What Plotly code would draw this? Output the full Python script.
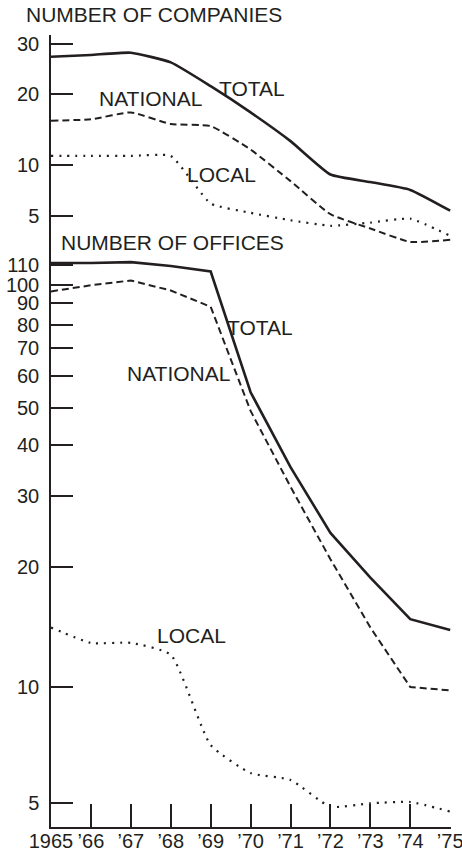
import numpy as np
import plotly.graph_objects as go

# ---- data -------------------------------------------------------------
years = list(range(1965, 1976))
year_labels = ["1965", "’66", "’67", "’68", "’69", "’70", "’71", "’72", "’73", "’74", "’75"]

companies_total = [27.0, 27.4, 27.9, 25.8, 21.3, 16.7, 12.6, 8.75, 7.9, 7.1, 5.35]
companies_national = [15.4, 15.6, 16.7, 14.9, 14.6, 11.6, 8.0, 5.1, 4.2, 3.5, 3.6]
companies_local = [10.9, 10.9, 10.9, 10.9, 5.9, 5.2, 4.7, 4.36, 4.55, 4.8, 3.8]

offices_total = [111, 111, 111.5, 109.5, 106.7, 54.7, 35.3, 24.3, 18.8, 14.8, 13.9]
offices_national = [96.5, 100, 102.3, 97, 88.3, 49.2, 31.6, 20.9, 14.1, 10.0, 9.8]
offices_local = [14.1, 12.9, 12.9, 12.05, 7.07, 5.98, 5.74, 4.89, 4.99, 5.03, 4.75]

company_ticks = [5, 10, 20, 30]
office_ticks = [5, 10, 20, 30, 40, 50, 60, 70, 80, 90, 100, 110]

# ---- printed value scales (tick heights above each panel's floor) -------
company_tick_heights = [36.3, 87.3, 158.0, 208.3]
office_tick_heights = [24.0, 140.0, 260.0, 331.0, 382.0, 418.7, 451.3, 478.7, 502.0, 523.7, 541.7, 562.0]
company_span = 217.0
office_span = 575.0


def make_scale(ticks, heights):
    lt = np.log10(np.asarray(ticks, dtype=float))
    h = np.asarray(heights, dtype=float)

    def f(values):
        lv = np.log10(np.asarray(values, dtype=float))
        out = np.interp(lv, lt, h)
        lo = lv < lt[0]
        hi = lv > lt[-1]
        s0 = (h[1] - h[0]) / (lt[1] - lt[0])
        s1 = (h[-1] - h[-2]) / (lt[-1] - lt[-2])
        out[lo] = h[0] + (lv[lo] - lt[0]) * s0
        out[hi] = h[-1] + (lv[hi] - lt[-1]) * s1
        return out

    return f


comp_scale = make_scale(company_ticks, company_tick_heights)
off_scale = make_scale(office_ticks, office_tick_heights)

INK = "#231f20"
FONT = "Liberation Sans, Arial, Helvetica, sans-serif"

W, H = 462, 851
ML, MR, MT, MB = 51, 11, 35, 24
plot_h = H - MT - MB
split = (H - MB - 252) / plot_h  # boundary between the two panels

SOLID = dict(color=INK, width=2.6)
DASHED = dict(color=INK, width=2.0, dash="7px,4px")
DOTTED = dict(color=INK, width=2.2, dash="2px,6px")

fig = go.Figure()

# companies panel (top)
for vals, line in [
    (companies_total, SOLID),
    (companies_national, DASHED),
    (companies_local, DOTTED),
]:
    fig.add_trace(go.Scatter(
        x=years, y=comp_scale(vals), mode="lines",
        line=dict(**line, shape="spline", smoothing=0.45),
        xaxis="x2", yaxis="y2", hoverinfo="skip", showlegend=False,
    ))

# offices panel (bottom)
for vals, line, shape in [
    (offices_total, SOLID, "linear"),
    (offices_national, DASHED, "linear"),
    (offices_local, DOTTED, "spline"),
]:
    kw = dict(shape=shape)
    if shape == "spline":
        kw["smoothing"] = 0.5
    fig.add_trace(go.Scatter(
        x=years, y=off_scale(vals), mode="lines",
        line=dict(**line, **kw),
        xaxis="x", yaxis="y", hoverinfo="skip", showlegend=False,
    ))


def px_x(x):
    return (x - ML) / (W - ML - MR)


def px_y(y):
    return (H - MB - y) / plot_h


def label(text, x, y):
    fig.add_annotation(
        text=text, x=px_x(x), y=px_y(y), xref="paper", yref="paper",
        xanchor="left", yanchor="middle", showarrow=False,
        font=dict(family=FONT, size=21, color=INK),
    )


label("NUMBER OF COMPANIES", 24, 14.5)
label("TOTAL", 217, 88.5)
label("NATIONAL", 97, 98.5)
label("LOCAL", 185, 174.5)

label("NUMBER OF OFFICES", 59, 242.5)
label("TOTAL", 225, 327.5)
label("NATIONAL", 125, 373)
label("LOCAL", 155, 635)

axis_common = dict(
    showgrid=False, zeroline=False, showline=True, linecolor=INK, linewidth=1.5,
    ticks="inside", tickcolor=INK, tickwidth=1.5, automargin=False,
    tickfont=dict(family=FONT, size=20, color=INK),
)

fig.update_layout(
    width=W, height=H,
    margin=dict(l=ML, r=MR, t=MT, b=MB, autoexpand=False),
    paper_bgcolor="white", plot_bgcolor="white",
    xaxis=dict(
        **axis_common, range=[1965, 1975.02], tickvals=years, ticktext=year_labels,
        ticklen=23, anchor="y", domain=[0, 1], ticklabelstandoff=-5,
        ticklabeloverflow="allow",
    ),
    xaxis2=dict(range=[1965, 1975.02], visible=False, anchor="y2", domain=[0, 1],
                matches="x"),
    yaxis=dict(
        **axis_common, range=[0, office_span], domain=[0, split],
        tickvals=off_scale(office_ticks), ticktext=[str(t) for t in office_ticks],
        ticklen=22, anchor="x", ticklabelstandoff=6,
    ),
    yaxis2=dict(
        **axis_common, range=[0, company_span], domain=[split, 1],
        tickvals=comp_scale(company_ticks), ticktext=[str(t) for t in company_ticks],
        ticklen=22, anchor="x2", ticklabelstandoff=6,
    ),
)

fig.write_html("out.html")
